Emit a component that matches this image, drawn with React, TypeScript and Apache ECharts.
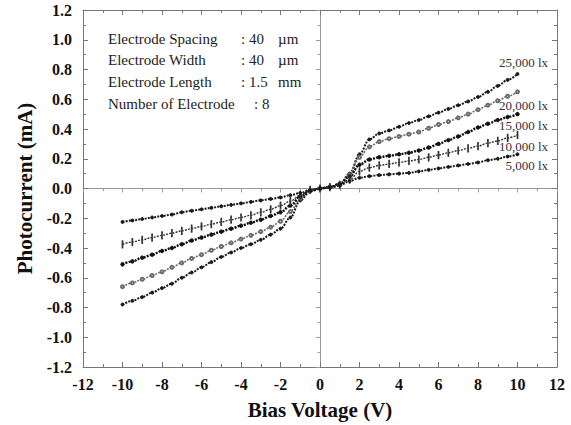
import React, { useEffect, useRef } from "react";
import * as echarts from "echarts";

const voltages = [-10, -9.5, -9, -8.5, -8, -7.5, -7, -6.5, -6, -5.5, -5, -4.5, -4, -3.5, -3, -2.5, -2, -1.5, -1, -0.5, 0,
  0.5, 1, 1.5, 2, 2.5, 3, 3.5, 4, 4.5, 5, 5.5, 6, 6.5, 7, 7.5, 8, 8.5, 9, 9.5, 10];

const lux25000 = [-0.78, -0.755, -0.73, -0.70, -0.67, -0.64, -0.60, -0.565, -0.53, -0.495, -0.46, -0.43, -0.40, -0.375, -0.345, -0.31, -0.27, -0.195, -0.08, -0.02, 0,
  0.01, 0.03, 0.10, 0.23, 0.33, 0.37, 0.39, 0.415, 0.44, 0.46, 0.485, 0.51, 0.535, 0.56, 0.585, 0.615, 0.65, 0.69, 0.73, 0.77];
const lux20000 = [-0.66, -0.635, -0.61, -0.585, -0.56, -0.53, -0.50, -0.47, -0.445, -0.415, -0.39, -0.365, -0.34, -0.315, -0.29, -0.26, -0.22, -0.155, -0.065, -0.015, 0,
  0.01, 0.03, 0.09, 0.21, 0.28, 0.315, 0.335, 0.35, 0.365, 0.38, 0.405, 0.43, 0.45, 0.475, 0.50, 0.53, 0.56, 0.59, 0.62, 0.65];
const lux15000 = [-0.51, -0.49, -0.465, -0.445, -0.42, -0.40, -0.375, -0.35, -0.33, -0.31, -0.29, -0.27, -0.25, -0.23, -0.21, -0.185, -0.16, -0.115, -0.055, -0.015, 0,
  0.01, 0.03, 0.08, 0.16, 0.195, 0.21, 0.22, 0.23, 0.24, 0.255, 0.275, 0.30, 0.325, 0.35, 0.38, 0.41, 0.435, 0.46, 0.48, 0.50];
const lux10000 = [-0.375, -0.36, -0.345, -0.33, -0.315, -0.30, -0.285, -0.27, -0.255, -0.24, -0.225, -0.21, -0.195, -0.18, -0.16, -0.14, -0.115, -0.085, -0.045, -0.01, 0,
  0.01, 0.025, 0.06, 0.115, 0.14, 0.155, 0.165, 0.175, 0.185, 0.195, 0.21, 0.225, 0.24, 0.255, 0.27, 0.285, 0.305, 0.32, 0.34, 0.36];
const lux5000 = [-0.225, -0.215, -0.205, -0.195, -0.185, -0.175, -0.16, -0.15, -0.14, -0.13, -0.12, -0.11, -0.10, -0.09, -0.08, -0.07, -0.06, -0.045, -0.03, -0.01, 0,
  0.005, 0.02, 0.05, 0.072, 0.083, 0.09, 0.095, 0.10, 0.105, 0.115, 0.125, 0.135, 0.145, 0.155, 0.165, 0.175, 0.19, 0.20, 0.215, 0.23];

const seriesNames = ["25,000 lx", "20,000 lx", "15,000 lx", "10,000 lx", "5,000 lx"];
const seriesValues = [lux25000, lux20000, lux15000, lux10000, lux5000];

const infoLabels = ["Electrode Spacing", "Electrode Width", "Electrode Length", "Number of Electrode"];
const infoValues = [": 40", ": 40", ": 1.5", ": 8"];
const infoUnits = ["\u00b5m", "\u00b5m", "mm", ""];

const SERIF = "'Times New Roman', 'Liberation Serif', serif";

export default function App() {
  const ref = useRef<HTMLDivElement>(null);
  useEffect(() => {
    if (!ref.current) return;
    const chart = echarts.init(ref.current, undefined, { renderer: "svg" });

    const styles = [
      { color: "#1a1a1a", symbol: "circle", size: 3, width: 2 },
      { color: "#6a6a6a", symbol: "emptyCircle", size: 3, width: 1.6 },
      { color: "#111", symbol: "circle", size: 3.5, width: 2.4 },
      { color: "#333", symbol: "rect", size: [1.2, 6], width: 1.4 },
      { color: "#1a1a1a", symbol: "circle", size: 3, width: 2 },
    ];

    const series: any[] = seriesValues.map((vals, k) => ({
      type: "line",
      name: seriesNames[k],
      data: voltages.map((v, i) => [v, vals[i]]),
      xAxisIndex: 0,
      yAxisIndex: 0,
      smooth: 0.35,
      smoothMonotone: "x",
      symbol: styles[k].symbol,
      symbolSize: styles[k].size,
      showSymbol: true,
      itemStyle: { color: styles[k].color, borderColor: styles[k].color },
      lineStyle: { color: styles[k].color, width: styles[k].width, type: [2, 1.2] },
      z: 3,
    }));

    const axisTextStyle = { fontFamily: SERIF, fontWeight: "bold" as const, fontSize: 16, color: "#111" };
    const lineColor = "#777";

    const boxX = (pos: string, show: boolean) => ({
      type: "value",
      min: -12,
      max: 12,
      interval: 2,
      position: pos,
      axisLine: { show: true, onZero: false, lineStyle: { color: lineColor, width: 1 } },
      axisTick: { show: true, inside: true, length: 5, lineStyle: { color: lineColor } },
      minorTick: { show: true, splitNumber: 2, length: 3, lineStyle: { color: lineColor } },
      splitLine: { show: false },
      axisLabel: show ? { show: true, margin: 9, ...axisTextStyle } : { show: false },
    });
    const boxY = (pos: string, show: boolean) => ({
      type: "value",
      min: -1.2,
      max: 1.2,
      interval: 0.2,
      position: pos,
      axisLine: { show: true, onZero: false, lineStyle: { color: lineColor, width: 1 } },
      axisTick: { show: true, inside: true, length: 5, lineStyle: { color: lineColor } },
      minorTick: { show: true, splitNumber: 2, length: 3, lineStyle: { color: lineColor } },
      splitLine: { show: false },
      axisLabel: show
        ? { show: true, margin: 11, formatter: (v: number) => v.toFixed(1), ...axisTextStyle }
        : { show: false },
    });

    const textStyle = (t: string, fill: string, size: number) => ({
      text: t,
      fontFamily: SERIF,
      fontSize: size,
      fill,
    });

    const graphics: any[] = [];
    infoLabels.forEach((t, i) => {
      const y = 39 + i * 21.7;
      graphics.push({ type: "text", left: 108, top: y - 8, style: textStyle(t, "#222", 15) });
      graphics.push({ type: "text", left: i === 3 ? 254 : 241, top: y - 8, style: textStyle(infoValues[i], "#222", 15) });
      if (infoUnits[i]) graphics.push({ type: "text", left: 278, top: y - 8, style: textStyle(infoUnits[i], "#222", 15) });
    });
    const luxY = [63, 106, 126, 147, 166];
    seriesNames.forEach((t, i) => {
      graphics.push({ type: "text", right: 23, top: luxY[i] - 7, style: textStyle(t, "#333", 13) });
    });

    chart.setOption({
      animation: false,
      backgroundColor: "#fff",
      textStyle: { fontFamily: SERIF },
      grid: { left: 83, right: 14, top: 10, bottom: 54, containLabel: false },
      xAxis: [
        {
          ...boxX("bottom", true),
          name: "Bias Voltage (V)",
          nameLocation: "middle",
          nameGap: 32,
          nameTextStyle: { fontFamily: SERIF, fontWeight: "bold", fontSize: 21, color: "#111" },
        },
        boxX("top", false),
        {
          type: "value",
          min: -12,
          max: 12,
          interval: 2,
          position: "bottom",
          axisLine: { show: true, onZero: true, onZeroAxisIndex: 0, lineStyle: { color: "#999", width: 1 } },
          axisTick: { show: true, inside: false, length: 4, lineStyle: { color: "#999" } },
          minorTick: { show: true, splitNumber: 2, length: 2.5, lineStyle: { color: "#999" } },
          splitLine: { show: false },
          axisLabel: { show: false },
        },
      ],
      yAxis: [
        {
          ...boxY("left", true),
          name: "Photocurrent (mA)",
          nameLocation: "middle",
          nameGap: 45,
          nameRotate: 90,
          nameTextStyle: { fontFamily: SERIF, fontWeight: "bold", fontSize: 21, color: "#111" },
        },
        boxY("right", false),
        {
          type: "value",
          min: -1.2,
          max: 1.2,
          interval: 0.2,
          position: "left",
          axisLine: { show: true, onZero: true, onZeroAxisIndex: 0, lineStyle: { color: "#999", width: 1 } },
          axisTick: { show: true, inside: false, length: 4, lineStyle: { color: "#999" } },
          minorTick: { show: true, splitNumber: 2, length: 2.5, lineStyle: { color: "#999" } },
          splitLine: { show: false },
          axisLabel: { show: false },
        },
      ],
      series,
      graphic: graphics,
    });

    return () => chart.dispose();
  }, []);

  return <div ref={ref} style={{ width: 571, height: 425, position: "absolute", left: 0, top: 0 }} />;
}
